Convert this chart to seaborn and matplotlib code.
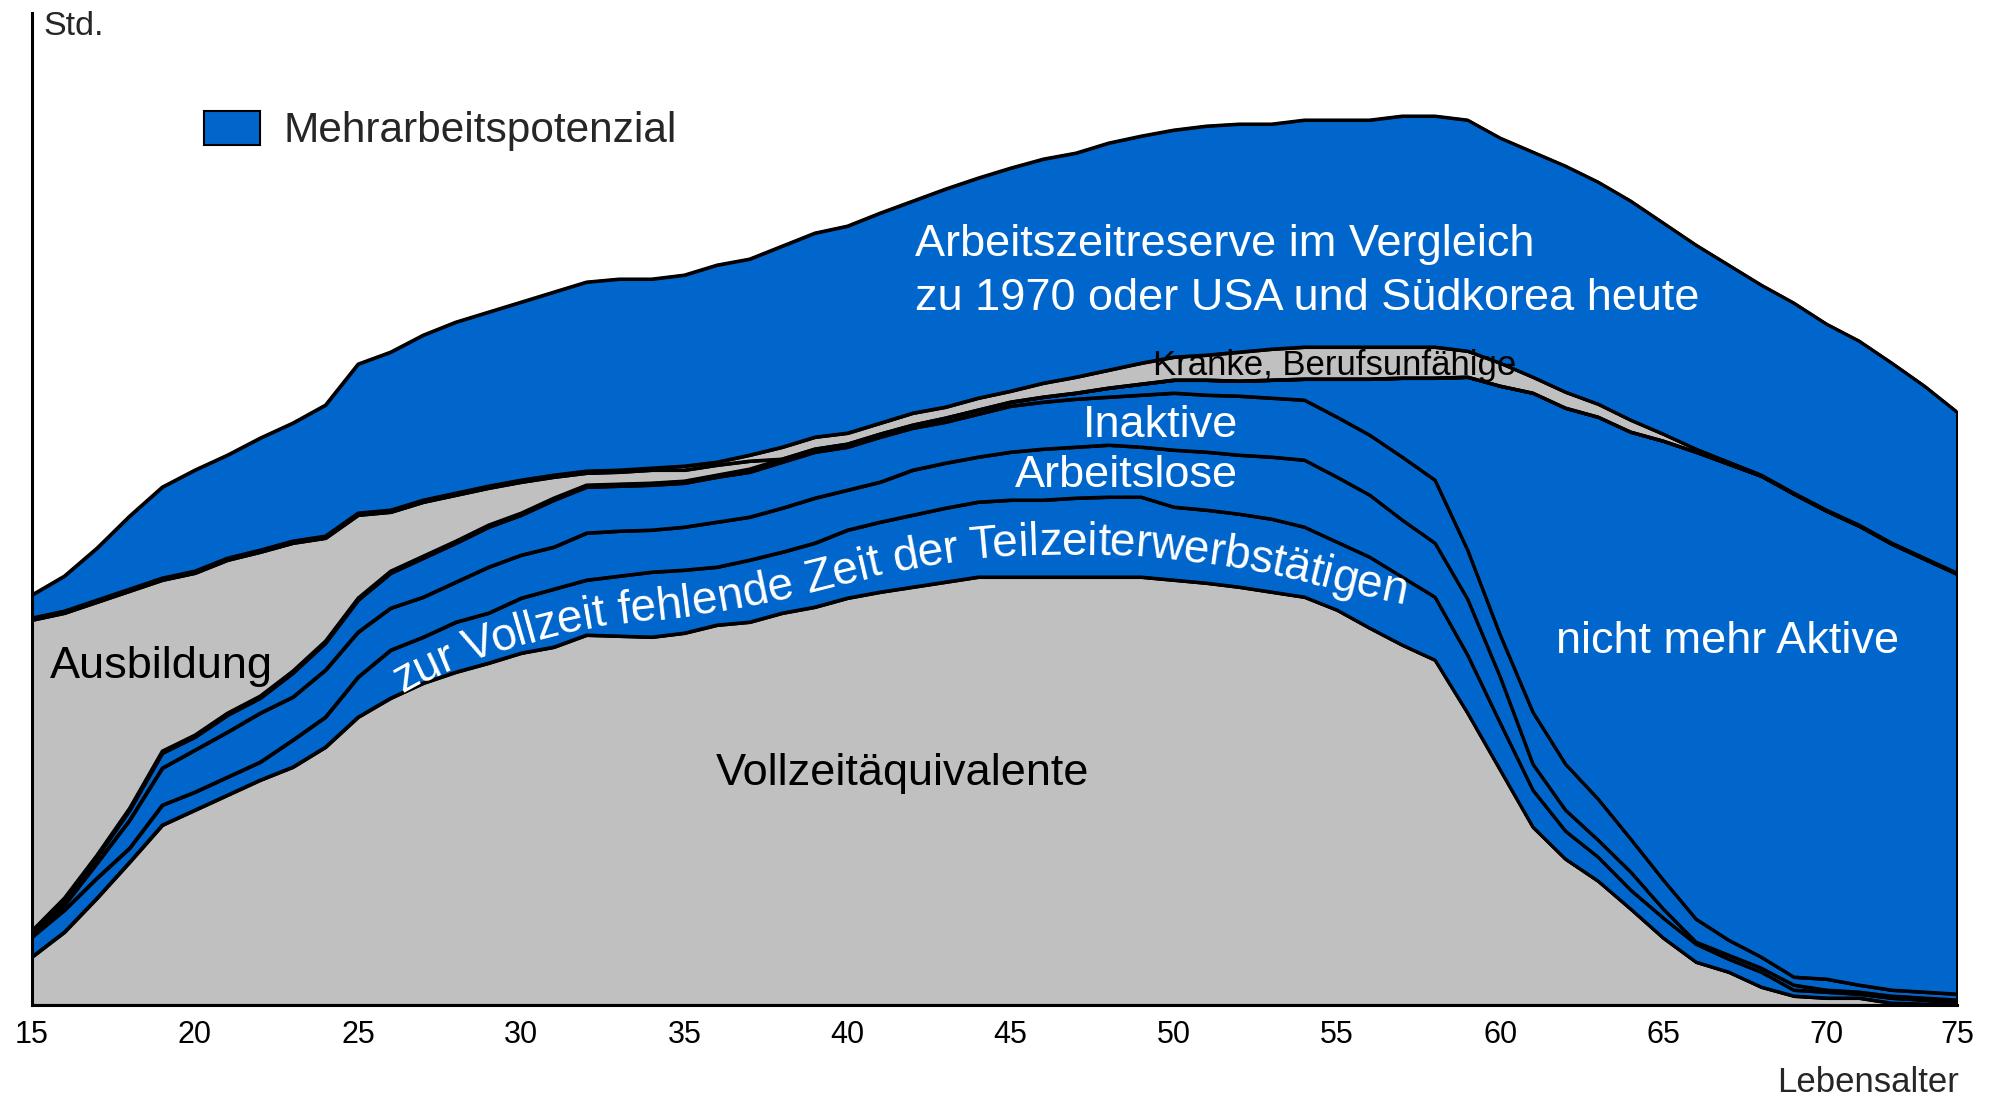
import numpy as np
import matplotlib
matplotlib.use('Agg')
import matplotlib.pyplot as plt
import seaborn as sns
from matplotlib.patches import Patch
from matplotlib.font_manager import FontProperties

# ---------------- data (cumulative upper bounds of each layer, per age) -------------
ages = list(range(15, 75))

vz_top = [48, 73, 107, 143, 180, 195, 210, 225, 238, 258,
          288, 307, 322, 333, 342, 352, 358, 370, 369, 368,
          372, 380, 383, 392, 398, 407, 413, 418, 423, 428,
          428, 428, 428, 428, 428, 425, 422, 418, 413, 408,
          395, 377, 360, 345, 292, 235, 178, 146, 124, 96,
          67, 43, 33, 18, 9, 7, 7, 2, 1, 0]

tz_top = [68, 95, 127, 157, 200, 213, 228, 243, 265, 288,
          328, 355, 368, 383, 392, 407, 416, 425, 429, 433,
          435, 438, 445, 453, 462, 475, 483, 490, 497, 503,
          505, 505, 507, 508, 508, 498, 495, 491, 486, 478,
          463, 448, 428, 408, 350, 282, 215, 174, 148, 115,
          87, 61, 46, 33, 15, 13, 11, 7, 5, 2]

al_top = [70, 100, 142, 185, 237, 255, 273, 292, 308, 335,
          373, 397, 408, 423, 438, 450, 458, 472, 474, 475,
          478, 483, 488, 497, 507, 515, 523, 535, 542, 548,
          553, 556, 558, 560, 558, 555, 553, 550, 548, 545,
          528, 510, 485, 462, 406, 328, 241, 195, 165, 133,
          96, 63, 50, 37, 20, 15, 13, 9, 7, 5]

in_top = [72, 105, 148, 195, 252, 268, 290, 307, 332, 362,
          405, 432, 447, 462, 478, 490, 505, 518, 519, 520,
          522, 528, 533, 543, 553, 558, 568, 577, 583, 591,
          599, 603, 606, 608, 610, 612, 610, 609, 607, 605,
          588, 570, 548, 525, 455, 370, 293, 241, 206, 166,
          125, 86, 65, 48, 28, 26, 20, 15, 13, 11]

nma_top = [74, 107, 150, 197, 254, 270, 292, 309, 334, 364,
           407, 434, 449, 464, 480, 492, 507, 520, 521, 522,
           524, 530, 536, 546, 556, 561, 571, 580, 587, 595,
           603, 608, 612, 617, 621, 625, 625, 624, 625, 626,
           626, 626, 627, 627, 628, 619, 612, 597, 588, 573,
           564, 553, 541, 529, 511, 494, 479, 461, 446, 431]

aus_top = [385, 392, 403, 414, 425, 432, 445, 453, 462, 467,
           490, 493, 503, 510, 517, 523, 528, 532, 533, 535,
           535, 540, 544, 546, 556, 561, 571, 580, 587, 595,
           603, 608, 612, 617, 621, 625, 625, 624, 625, 626,
           626, 626, 627, 627, 628, 619, 612, 597, 588, 573,
           564, 553, 541, 529, 511, 494, 479, 461, 446, 431]

kr_top = [387, 394, 405, 416, 427, 434, 447, 455, 464, 469,
          492, 495, 505, 512, 519, 525, 530, 534, 535, 537,
          539, 543, 550, 558, 568, 572, 582, 592, 598, 607,
          614, 622, 628, 635, 642, 648, 650, 653, 656, 658,
          658, 658, 658, 658, 654, 642, 628, 613, 601, 585,
          571, 556, 543, 530, 512, 495, 480, 462, 447, 432]

res_top = [410, 429, 457, 489, 518, 535, 550, 567, 582, 600,
           641, 653, 670, 683, 693, 703, 713, 723, 726, 726,
           730, 740, 746, 759, 772, 779, 792, 804, 816, 827,
           837, 846, 852, 862, 869, 875, 879, 881, 881, 885,
           885, 885, 889, 889, 885, 867, 853, 839, 823, 804,
           782, 760, 740, 720, 702, 681, 664, 642, 619, 593]

tick_pos = [15, 20, 25, 30, 35, 40, 45, 50, 55, 60, 65, 70, 74]
tick_lab = ['15', '20', '25', '30', '35', '40', '45', '50', '55', '60', '65', '70', '75']

# ---------------- style -------------
sns.set_style('white')
plt.rcParams['font.family'] = ['Liberation Sans', 'DejaVu Sans']

BLUE = '#0066CC'
GREY = '#C0C0C0'
LW = 2.2
W, H = 1998, 1096

fig = plt.figure(figsize=(W / 100, H / 100), dpi=100)
ax = fig.add_axes([31.7 / W, (H - 1005) / H, (1957 - 31.7) / W, (1005 - 13) / H])
ax.set_xlim(15, 74)
ax.set_ylim(0, 992)

x = np.array(ages, float)
tops = [vz_top, tz_top, al_top, in_top, nma_top, aus_top, kr_top, res_top]
colors = [GREY, BLUE, BLUE, BLUE, BLUE, GREY, GREY, BLUE]
lower = np.zeros(len(x))
for top, c in zip(tops, colors):
    top = np.array(top, float)
    ax.fill_between(x, lower, top, facecolor=c, edgecolor='black',
                    linewidth=LW, zorder=1)
    lower = top
for top in tops:
    sns.lineplot(x=x, y=np.array(top, float), ax=ax, color='black',
                 linewidth=LW, zorder=2, legend=False)

ax.set_xlabel('')
ax.set_ylabel('')
ax.set_xticks(tick_pos)
ax.set_xticklabels(tick_lab)
ax.set_yticks([])
for s in ['top', 'right']:
    ax.spines[s].set_visible(False)
for s in ['left', 'bottom']:
    ax.spines[s].set_linewidth(LW)
    ax.spines[s].set_color('black')
    ax.spines[s].set_zorder(5)
ax.tick_params(axis='x', direction='out', length=7, width=2, labelsize=22,
               pad=4, colors='black')

# ---------------- labels -------------
FS = 32.5
ax.text(42.06, 749, 'Arbeitszeitreserve im Vergleich', color='white', fontsize=FS,
        ha='left', va='baseline', zorder=6)
ax.text(42.06, 695, 'zu 1970 oder USA und Südkorea heute', color='white', fontsize=FS,
        ha='left', va='baseline', zorder=6)
ax.text(49.35, 630, 'Kranke, Berufsunfähige', color='black', fontsize=25,
        ha='left', va='baseline', zorder=6)
ax.text(51.98, 568, 'Inaktive', color='white', fontsize=FS, ha='right', va='baseline', zorder=6)
ax.text(51.98, 518, 'Arbeitslose', color='white', fontsize=FS, ha='right', va='baseline', zorder=6)
ax.text(61.70, 352, 'nicht mehr Aktive', color='white', fontsize=FS, ha='left', va='baseline', zorder=6)
ax.text(15.56, 327, 'Ausbildung', color='black', fontsize=FS, ha='left', va='baseline', zorder=6)
ax.text(35.95, 220, 'Vollzeitäquivalente', color='black', fontsize=FS, ha='left', va='baseline', zorder=6)

fig.text(43 / W, 1 - 35 / H, 'Std.', fontsize=24.5, ha='left', va='baseline')
fig.text(1959 / W, 1 - 1092 / H, 'Lebensalter', fontsize=25, ha='right', va='baseline')

handle = Patch(facecolor=BLUE, edgecolor='black', linewidth=1.5)
fig.legend(handles=[handle], labels=['Mehrarbeitspotenzial'], loc='center left',
           bbox_to_anchor=(204 / W, 1 - 131 / H), frameon=False, fontsize=30.5,
           handlelength=1.32, handleheight=0.87, handletextpad=0.55,
           borderpad=0, borderaxespad=0)

# ---------------- curved label along the part-time band -------------
CFS = 33.2
renderer = fig.canvas.get_renderer()
fp = FontProperties(family='Liberation Sans', size=CFS)
label = 'zur Vollzeit fehlende Zeit der Teilzeiterwerbstätigen'
mid = (np.array(vz_top, float) + np.array(tz_top, float)) / 2
# guide line: band centre, eased after age 55 so the text bends gently
guide = np.where(x > 55, mid[x == 55][0] - 6.0 * (x - 55), mid)
fx = np.linspace(15, 74, 3000)
fy = np.interp(fx, x, guide)
sig = 1.4 / (fx[1] - fx[0])
kk = np.arange(-int(3 * sig), int(3 * sig) + 1)
kern = np.exp(-0.5 * (kk / sig) ** 2)
kern /= kern.sum()
fy_s = np.convolve(np.pad(fy, len(kk) // 2, mode='edge'), kern, mode='valid')
pts = ax.transData.transform(np.column_stack([fx, fy_s]))
seg = np.hypot(np.diff(pts[:, 0]), np.diff(pts[:, 1]))
sarr = np.concatenate([[0], np.cumsum(seg)])
ang = np.degrees(np.arctan2(np.gradient(pts[:, 1]), np.gradient(pts[:, 0])))
s0 = np.interp(394, pts[:, 0], sarr)
cap = 0.716 * CFS * 100 / 72


def twidth(t):
    return renderer.get_text_width_height_descent(t, fp, ismath=False)[0]


inv = ax.transData.inverted()
for i, ch in enumerate(label):
    if ch == ' ':
        continue
    sc = s0 + twidth(label[:i + 1]) - twidth(ch) / 2
    px = np.interp(sc, sarr, pts[:, 0])
    py = np.interp(sc, sarr, pts[:, 1])
    a = np.interp(sc, sarr, ang)
    th = np.radians(a)
    bx = px + (cap / 2) * np.sin(th)
    by = py - (cap / 2) * np.cos(th)
    dx, dy = inv.transform((bx, by))
    ax.text(dx, dy, ch, fontproperties=fp, color='white', rotation=a,
            rotation_mode='anchor', ha='center', va='baseline', zorder=6)

fig.savefig('out.png', dpi=100)
